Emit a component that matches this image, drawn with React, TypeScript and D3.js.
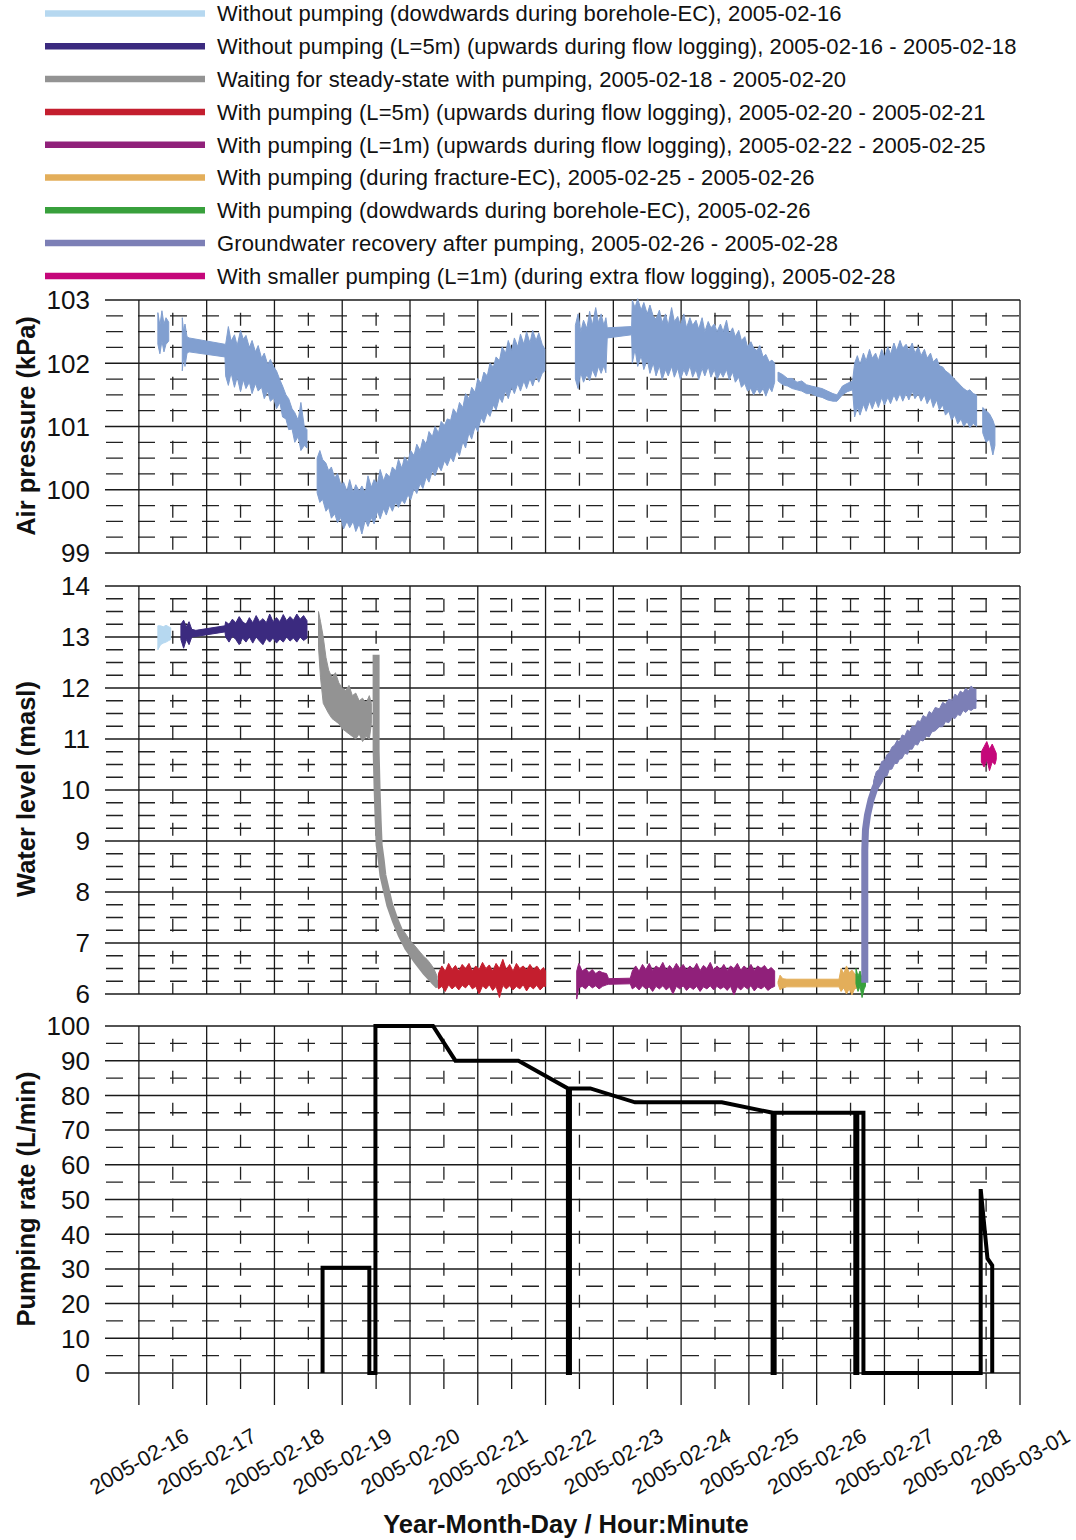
import React from "react";
import * as d3 from "d3";

// ---------- Data (time = day of February 2005, 29 = 2005-03-01) ----------
const dayTicks = [16, 17, 18, 19, 20, 21, 22, 23, 24, 25, 26, 27, 28, 29];
const dayLabels = [
  "2005-02-16", "2005-02-17", "2005-02-18", "2005-02-19", "2005-02-20", "2005-02-21", "2005-02-22",
  "2005-02-23", "2005-02-24", "2005-02-25", "2005-02-26", "2005-02-27", "2005-02-28", "2005-03-01",
];
const airTicks = [99, 100, 101, 102, 103];
const waterTicks = [6, 7, 8, 9, 10, 11, 12, 13, 14];
const pumpTicks = [0, 10, 20, 30, 40, 50, 60, 70, 80, 90, 100];

const legendLabels = [
  "Without pumping (dowdwards during borehole-EC), 2005-02-16",
  "Without pumping (L=5m) (upwards during flow logging), 2005-02-16 - 2005-02-18",
  "Waiting for steady-state with pumping, 2005-02-18 - 2005-02-20",
  "With pumping (L=5m) (upwards during flow logging), 2005-02-20 - 2005-02-21",
  "With pumping (L=1m) (upwards during flow logging), 2005-02-22 - 2005-02-25",
  "With pumping (during fracture-EC), 2005-02-25 - 2005-02-26",
  "With pumping (dowdwards during borehole-EC), 2005-02-26",
  "Groundwater recovery after pumping, 2005-02-26 - 2005-02-28",
  "With smaller pumping (L=1m) (during extra flow logging), 2005-02-28",
];
const legendColors = ["#b6d8f0", "#3b2a7f", "#939393", "#c41e2e", "#90207a", "#e3ae5a", "#38a03c", "#7c7fb6", "#c5077a"];
const airColor = "#819fd0";

// Air pressure envelopes [day, low, high] (kPa)
const airA = [
  [16.28, 102.3, 102.8], [16.31, 102.15, 102.6], [16.34, 102.35, 102.83], [16.37, 102.18, 102.62],
  [16.4, 102.3, 102.72], [16.44, 102.35, 102.65],
];
const airB = [
  [16.64, 101.88, 102.72], [16.66, 102.1, 102.5], [16.68, 101.95, 102.62], [16.71, 102.16, 102.42],
  [16.74, 102.18, 102.4], [17.27, 102.1, 102.3],
  [17.28, 101.8, 102.3], [17.32, 101.65, 102.58], [17.36, 101.85, 102.35], [17.41, 101.62, 102.45],
  [17.45, 101.78, 102.28], [17.5, 101.55, 102.52], [17.54, 101.74, 102.38], [17.58, 101.6, 102.44],
  [17.63, 101.7, 102.25], [17.67, 101.52, 102.36], [17.72, 101.68, 102.18], [17.76, 101.56, 102.28],
  [17.81, 101.62, 102.08], [17.85, 101.44, 102.16], [17.9, 101.56, 101.98], [17.94, 101.4, 102.06],
  [17.99, 101.45, 101.94], [18.03, 101.28, 101.88], [18.08, 101.38, 101.74], [18.12, 101.15, 101.64],
  [18.17, 101.12, 101.5], [18.21, 100.95, 101.44], [18.26, 100.96, 101.28], [18.3, 100.75, 101.22],
  [18.35, 100.84, 101.1], [18.39, 100.62, 101.38], [18.44, 100.7, 101.0], [18.48, 100.66, 100.95],
];
const airC = [
  [18.63, 99.95, 100.5], [18.67, 99.8, 100.62], [18.71, 99.85, 100.48], [18.76, 99.66, 100.42],
  [18.8, 99.72, 100.3], [18.84, 99.55, 100.36], [18.89, 99.62, 100.18], [18.93, 99.48, 100.26],
  [18.98, 99.56, 100.08], [19.02, 99.38, 100.12], [19.07, 99.5, 99.98], [19.11, 99.4, 100.16],
  [19.16, 99.5, 99.96], [19.2, 99.34, 100.08], [19.25, 99.46, 99.98], [19.29, 99.3, 100.06],
  [19.34, 99.52, 99.95], [19.38, 99.42, 100.22], [19.43, 99.56, 100.04], [19.47, 99.46, 100.16],
  [19.52, 99.66, 100.1], [19.56, 99.54, 100.32], [19.61, 99.7, 100.14], [19.65, 99.6, 100.26],
  [19.7, 99.76, 100.2], [19.74, 99.66, 100.36], [19.79, 99.8, 100.3], [19.83, 99.72, 100.48],
  [19.88, 99.84, 100.34], [19.92, 99.78, 100.52], [19.97, 99.92, 100.44], [20.01, 99.84, 100.62],
  [20.06, 100.02, 100.54], [20.1, 99.94, 100.72], [20.15, 100.1, 100.62], [20.19, 100.02, 100.8],
  [20.24, 100.2, 100.72], [20.28, 100.12, 100.92], [20.33, 100.3, 100.84], [20.37, 100.22, 101.0],
  [20.42, 100.38, 100.9], [20.46, 100.3, 101.08], [20.51, 100.46, 101.02], [20.55, 100.38, 101.12],
  [20.6, 100.52, 101.1], [20.64, 100.44, 101.28], [20.69, 100.62, 101.2], [20.73, 100.54, 101.38],
  [20.78, 100.76, 101.3], [20.82, 100.66, 101.52], [20.87, 100.9, 101.44], [20.91, 100.8, 101.62],
  [20.96, 101.0, 101.54], [21.0, 100.92, 101.76], [21.05, 101.14, 101.68], [21.09, 101.06, 101.86],
  [21.14, 101.22, 101.8], [21.18, 101.16, 102.0], [21.23, 101.34, 101.94], [21.27, 101.26, 102.1],
  [21.32, 101.46, 102.04], [21.36, 101.38, 102.26], [21.41, 101.56, 102.16], [21.45, 101.44, 102.36],
  [21.5, 101.62, 102.2], [21.54, 101.52, 102.4], [21.59, 101.68, 102.26], [21.63, 101.56, 102.46],
  [21.68, 101.72, 102.3], [21.72, 101.6, 102.5], [21.77, 101.76, 102.32], [21.81, 101.64, 102.52],
  [21.86, 101.8, 102.36], [21.9, 101.7, 102.48], [21.95, 101.84, 102.3], [21.99, 101.88, 102.22],
];
const airD = [
  [22.44, 101.75, 102.6], [22.48, 101.6, 102.78], [22.52, 101.85, 102.5], [22.56, 101.7, 102.68],
  [22.61, 101.82, 102.55], [22.65, 101.72, 102.82], [22.69, 101.9, 102.6], [22.74, 101.78, 102.88],
  [22.78, 101.95, 102.64], [22.82, 101.84, 102.78], [22.86, 101.96, 102.6], [22.89, 101.85, 102.72],
  [22.91, 102.4, 102.56], [23.27, 102.45, 102.58],
  [23.28, 102.0, 103.0], [23.32, 102.22, 102.88], [23.36, 101.95, 103.02], [23.41, 102.12, 102.84],
  [23.45, 101.9, 102.96], [23.5, 102.06, 102.78], [23.54, 101.84, 102.92], [23.59, 102.0, 102.74],
  [23.63, 101.8, 102.7], [23.68, 101.96, 102.84], [23.72, 101.74, 102.64], [23.77, 101.9, 102.78],
  [23.81, 101.8, 102.6], [23.86, 101.95, 102.88], [23.9, 101.78, 102.66], [23.95, 101.92, 102.74],
  [23.99, 101.74, 102.6], [24.04, 101.9, 102.78], [24.08, 101.8, 102.56], [24.13, 101.96, 102.72],
  [24.17, 101.78, 102.6], [24.22, 101.9, 102.68], [24.26, 101.74, 102.54], [24.31, 101.92, 102.72],
  [24.35, 101.8, 102.5], [24.4, 101.95, 102.66], [24.44, 101.78, 102.56], [24.49, 101.9, 102.62],
  [24.53, 101.74, 102.5], [24.58, 101.86, 102.62], [24.62, 101.78, 102.5], [24.67, 101.9, 102.68],
  [24.71, 101.74, 102.46], [24.76, 101.86, 102.56], [24.8, 101.7, 102.42], [24.85, 101.78, 102.52],
  [24.89, 101.62, 102.36], [24.94, 101.68, 102.42], [24.98, 101.56, 102.26], [25.03, 101.6, 102.34],
  [25.07, 101.5, 102.24], [25.12, 101.6, 102.2], [25.16, 101.52, 102.28], [25.21, 101.6, 102.1],
  [25.25, 101.48, 102.14], [25.3, 101.62, 102.02], [25.34, 101.55, 102.05], [25.38, 101.7, 102.0],
];
const airE = [
  [25.43, 101.72, 101.86], [25.5, 101.66, 101.82], [25.57, 101.64, 101.76], [25.64, 101.6, 101.76],
  [25.71, 101.58, 101.7], [25.78, 101.56, 101.72], [25.85, 101.52, 101.66], [25.92, 101.52, 101.64],
  [26.0, 101.48, 101.62], [26.08, 101.46, 101.6], [26.16, 101.42, 101.56], [26.24, 101.4, 101.52],
  [26.3, 101.4, 101.5], [26.38, 101.5, 101.64], [26.45, 101.55, 101.68], [26.53, 101.58, 101.72],
  [26.56, 101.15, 102.0], [26.6, 101.3, 102.12], [26.64, 101.18, 101.98], [26.69, 101.35, 102.16],
  [26.73, 101.24, 102.04], [26.78, 101.4, 102.22], [26.82, 101.28, 102.08], [26.87, 101.42, 102.16],
  [26.91, 101.3, 102.04], [26.96, 101.46, 102.22], [27.0, 101.34, 102.1], [27.05, 101.46, 102.26],
  [27.09, 101.36, 102.14], [27.14, 101.5, 102.32], [27.18, 101.4, 102.2], [27.23, 101.52, 102.36],
  [27.27, 101.4, 102.24], [27.32, 101.52, 102.3], [27.36, 101.42, 102.2], [27.41, 101.56, 102.32],
  [27.45, 101.44, 102.16], [27.5, 101.52, 102.26], [27.54, 101.4, 102.12], [27.59, 101.5, 102.22],
  [27.63, 101.36, 102.08], [27.68, 101.46, 102.16], [27.72, 101.3, 102.02], [27.77, 101.42, 102.08],
  [27.81, 101.26, 101.96], [27.86, 101.34, 101.94], [27.9, 101.18, 101.88], [27.95, 101.24, 101.84],
  [27.99, 101.1, 101.8], [28.04, 101.18, 101.74], [28.08, 101.04, 101.7], [28.13, 101.12, 101.64],
  [28.17, 101.0, 101.6], [28.22, 101.08, 101.56], [28.26, 100.98, 101.58], [28.31, 101.05, 101.52],
  [28.36, 101.0, 101.5],
];
const airF = [
  [28.45, 100.9, 101.3], [28.5, 100.75, 101.25], [28.55, 100.8, 101.2], [28.6, 100.55, 101.1],
  [28.63, 100.7, 101.0],
];
const airSegments = [airA, airB, airC, airD, airE, airF];

// Water level envelopes [day, low, high] (masl)
const wlLightBlue = [
  [16.28, 12.75, 13.22], [16.32, 12.85, 13.22], [16.36, 12.88, 13.2], [16.4, 12.9, 13.23],
  [16.44, 12.93, 13.2], [16.47, 12.95, 13.18],
];
const wlIndigo = [
  [16.62, 12.95, 13.25], [16.66, 12.78, 13.33], [16.7, 12.95, 13.2], [16.74, 12.85, 13.3],
  [16.78, 13.0, 13.15], [16.84, 13.01, 13.13], [17.27, 13.1, 13.22],
  [17.28, 13.0, 13.3], [17.33, 12.9, 13.25], [17.38, 13.02, 13.35], [17.43, 12.95, 13.28],
  [17.48, 12.85, 13.4], [17.53, 12.98, 13.3], [17.58, 12.9, 13.25], [17.63, 13.0, 13.38],
  [17.68, 12.88, 13.28], [17.73, 13.0, 13.42], [17.78, 12.92, 13.3], [17.83, 12.85, 13.36],
  [17.88, 12.97, 13.28], [17.93, 12.9, 13.45], [17.98, 12.98, 13.3], [18.03, 12.88, 13.38],
  [18.08, 12.96, 13.3], [18.13, 12.9, 13.44], [18.18, 13.0, 13.32], [18.23, 12.92, 13.4],
  [18.28, 12.98, 13.33], [18.33, 12.9, 13.45], [18.38, 13.0, 13.35], [18.43, 12.93, 13.42],
  [18.48, 12.98, 13.32],
];
const wlGrayNoisy = [
  [18.65, 12.8, 13.5], [18.68, 12.2, 13.3], [18.72, 11.7, 13.0], [18.76, 11.6, 12.6],
  [18.8, 11.5, 12.35], [18.85, 11.4, 12.2], [18.9, 11.35, 12.3], [18.95, 11.3, 12.1],
  [19.0, 11.2, 12.0], [19.05, 11.15, 11.95], [19.1, 11.1, 12.05], [19.15, 11.05, 11.85],
  [19.2, 11.0, 11.9], [19.25, 11.1, 11.75], [19.3, 10.95, 11.8], [19.35, 11.05, 11.7],
  [19.4, 11.0, 11.85], [19.43, 11.3, 11.7],
];
const wlGrayDrawdown = [
  [19.5, 12.65], [19.5, 11.76], [19.5, 10.78], [19.515, 9.99], [19.53, 9.41], [19.545, 8.92],
  [19.575, 8.63], [19.6, 8.33], [19.65, 8.04], [19.7, 7.75], [19.78, 7.45], [19.87, 7.16],
  [19.97, 6.9], [20.09, 6.67], [20.23, 6.43], [20.34, 6.27], [20.42, 6.16],
];
const wlGrayTail = [
  [19.9, 7.0, 7.25], [19.95, 6.85, 7.15], [20.0, 6.8, 7.05], [20.05, 6.7, 6.98], [20.1, 6.6, 6.9],
  [20.15, 6.52, 6.82], [20.2, 6.45, 6.74], [20.25, 6.38, 6.68], [20.3, 6.3, 6.6], [20.35, 6.22, 6.5],
  [20.4, 6.12, 6.35],
];
const wlRed = [
  [20.42, 6.1, 6.4], [20.47, 6.15, 6.55], [20.52, 6.05, 6.45], [20.57, 6.18, 6.6], [20.62, 6.1, 6.48],
  [20.67, 6.16, 6.56], [20.72, 6.08, 6.45], [20.77, 6.17, 6.58], [20.82, 6.12, 6.5], [20.87, 6.2, 6.6],
  [20.92, 6.1, 6.45], [20.97, 6.15, 6.55], [21.02, 6.0, 6.48], [21.07, 6.16, 6.62], [21.12, 6.1, 6.5],
  [21.17, 6.18, 6.57], [21.22, 6.07, 6.45], [21.27, 6.15, 6.6], [21.32, 5.93, 6.5], [21.37, 6.17, 6.68],
  [21.42, 6.1, 6.48], [21.47, 6.16, 6.58], [21.52, 6.08, 6.45], [21.57, 6.15, 6.6], [21.62, 6.1, 6.5],
  [21.67, 6.18, 6.55], [21.72, 6.06, 6.47], [21.77, 6.16, 6.58], [21.82, 6.1, 6.48], [21.87, 6.17, 6.55],
  [21.92, 6.08, 6.46], [21.97, 6.15, 6.52], [22.0, 6.15, 6.45],
];
const wlPurple = [
  [22.46, 5.9, 6.45], [22.49, 6.12, 6.6], [22.54, 6.15, 6.45], [22.59, 6.1, 6.5], [22.64, 6.18, 6.42],
  [22.69, 6.12, 6.48], [22.74, 6.16, 6.4], [22.79, 6.1, 6.45], [22.84, 6.15, 6.42], [22.9, 6.18, 6.4],
  [22.93, 6.19, 6.3], [23.25, 6.2, 6.31],
  [23.28, 6.1, 6.45], [23.33, 6.15, 6.55], [23.38, 6.08, 6.45], [23.43, 6.16, 6.58], [23.48, 6.1, 6.48],
  [23.53, 6.14, 6.6], [23.58, 6.05, 6.46], [23.63, 6.15, 6.55], [23.68, 6.1, 6.5], [23.73, 6.16, 6.62],
  [23.78, 6.08, 6.47], [23.83, 6.14, 6.56], [23.88, 6.0, 6.48], [23.93, 6.15, 6.6], [23.98, 6.1, 6.5],
  [24.03, 6.16, 6.58], [24.08, 6.07, 6.47], [24.13, 6.14, 6.55], [24.18, 6.09, 6.48], [24.23, 6.15, 6.6],
  [24.28, 6.05, 6.46], [24.33, 6.14, 6.56], [24.38, 6.1, 6.5], [24.43, 6.16, 6.62], [24.48, 6.08, 6.47],
  [24.53, 6.15, 6.55], [24.58, 6.1, 6.48], [24.63, 6.14, 6.58], [24.68, 6.07, 6.46], [24.73, 6.15, 6.55],
  [24.78, 5.98, 6.5], [24.83, 6.14, 6.6], [24.88, 6.08, 6.47], [24.93, 6.15, 6.55], [24.98, 6.1, 6.48],
  [25.03, 6.16, 6.58], [25.08, 6.06, 6.46], [25.13, 6.14, 6.55], [25.18, 6.1, 6.5], [25.23, 6.15, 6.56],
  [25.28, 6.07, 6.47], [25.33, 6.12, 6.52], [25.38, 6.15, 6.45],
];
const wlTan = [
  [25.43, 6.2, 6.24], [25.46, 6.08, 6.37], [25.5, 6.12, 6.3], [25.56, 6.14, 6.29], [26.33, 6.14, 6.29],
  [26.36, 6.05, 6.5], [26.4, 6.12, 6.4], [26.44, 6.0, 6.55], [26.48, 6.1, 6.42], [26.52, 5.98, 6.47],
  [26.56, 6.1, 6.4], [26.6, 6.12, 6.35], [26.62, 6.18, 6.28],
];
const wlGreen = [
  [26.58, 6.2, 6.5], [26.61, 6.05, 6.35], [26.64, 6.15, 6.45], [26.67, 5.93, 6.3], [26.7, 6.1, 6.38],
  [26.72, 6.15, 6.25],
];
const wlRecoveryLine = [
  [26.71, 6.22], [26.71, 7.84], [26.71, 8.82], [26.72, 9.22], [26.75, 9.51], [26.8, 9.8], [26.86, 10.04],
  [26.93, 10.25], [27.03, 10.49], [27.15, 10.69], [27.3, 10.88], [27.45, 11.06], [27.62, 11.24],
  [27.81, 11.41], [28.04, 11.59], [28.23, 11.73], [28.35, 11.8],
];
const wlRecoveryNoisy = [
  [26.84, 9.86, 10.18], [26.88, 9.98, 10.36], [26.92, 10.06, 10.4], [26.96, 10.14, 10.56],
  [27.0, 10.26, 10.58], [27.04, 10.28, 10.7], [27.07, 10.4, 10.72], [27.11, 10.41, 10.84],
  [27.15, 10.52, 10.88], [27.19, 10.52, 10.98], [27.22, 10.6, 10.94], [27.26, 10.62, 11.08],
  [27.3, 10.72, 11.06], [27.34, 10.7, 11.18], [27.37, 10.8, 11.14], [27.41, 10.8, 11.26],
  [27.45, 10.9, 11.24], [27.49, 10.88, 11.36], [27.53, 10.98, 11.34], [27.57, 10.96, 11.46],
  [27.62, 11.06, 11.42], [27.66, 11.04, 11.54], [27.7, 11.14, 11.5], [27.75, 11.16, 11.62],
  [27.81, 11.24, 11.59], [27.86, 11.24, 11.72], [27.9, 11.34, 11.68], [27.95, 11.32, 11.78],
  [28.0, 11.42, 11.76], [28.04, 11.4, 11.88], [28.08, 11.48, 11.84], [28.12, 11.46, 11.94],
  [28.16, 11.56, 11.9], [28.2, 11.52, 12.0], [28.24, 11.58, 11.94], [28.28, 11.56, 12.04],
  [28.32, 11.6, 11.98], [28.35, 11.6, 11.98],
];
const wlMagenta = [
  [28.43, 10.55, 10.75], [28.47, 10.45, 10.85], [28.51, 10.6, 10.95], [28.55, 10.38, 10.8],
  [28.59, 10.55, 10.9], [28.63, 10.5, 10.78], [28.65, 10.6, 10.72],
];

// Pumping rate [day, L/min]
const pumping = [
  [18.71, 0], [18.71, 30.3], [19.4, 30.3], [19.4, 0], [19.49, 0], [19.49, 100], [20.34, 100],
  [20.67, 90], [21.6, 90], [22.33, 82], [22.33, 0], [22.36, 0], [22.36, 82], [22.66, 82],
  [23.32, 78], [24.6, 78], [25.35, 75], [25.35, 0], [25.38, 0], [25.38, 75], [26.57, 75],
  [26.57, 0], [26.6, 0], [26.6, 75], [26.69, 75], [26.69, 0], [28.42, 0], [28.42, 53],
  [28.52, 33], [28.59, 31], [28.59, 0],
];

// ---------- Layout ----------
const FONT = "'Liberation Sans', Arial, Helvetica, sans-serif";
const LEFT = 105;
const RIGHT = 1020;
const x = d3.scaleLinear().domain([15.5, 29]).range([LEFT, RIGHT]);
const yAir = d3.scaleLinear().domain([99, 103]).range([553, 300]);
const yWater = d3.scaleLinear().domain([6, 14]).range([994, 586]);
const yPump = d3.scaleLinear().domain([0, 100]).range([1373, 1026]);

type Scale = d3.ScaleLinear<number, number>;

function range(a: number, b: number, step: number) {
  const out: number[] = [];
  for (let v = a; v <= b + 1e-9; v += step) out.push(+v.toFixed(4));
  return out;
}

function Grid({ y, major, minorStep }: { y: Scale; major: number[]; minorStep: number }) {
  const [d0, d1] = y.domain();
  const minors = range(d0, d1, minorStep).filter((v) => !major.some((m) => Math.abs(m - v) < 1e-6));
  const top = y(d1);
  const bottom = y(d0);
  const halfDays = range(16.5, 28.5, 1);
  return (
    <g>
      {minors.map((v) => (
        <line key={"hm" + v} x1={LEFT} x2={RIGHT} y1={y(v)} y2={y(v)} stroke="#222" strokeWidth={1.3}
          strokeDasharray="17 15" strokeDashoffset={-1} />
      ))}
      {halfDays.map((d) => (
        <line key={"vm" + d} x1={x(d)} x2={x(d)} y1={top} y2={bottom} stroke="#222" strokeWidth={1.3}
          strokeDasharray="13 19" strokeDashoffset={19.3} />
      ))}
      {major.map((v) => (
        <line key={"hM" + v} x1={LEFT} x2={RIGHT} y1={y(v)} y2={y(v)} stroke="#1a1a1a" strokeWidth={1.5} />
      ))}
      {dayTicks.map((d) => (
        <line key={"vM" + d} x1={x(d)} x2={x(d)} y1={top} y2={bottom} stroke="#1a1a1a" strokeWidth={1.3} />
      ))}
      {major.map((v) => (
        <text key={"t" + v} x={90} y={y(v)} dy="0.36em" textAnchor="end" fontSize={26} fontFamily={FONT} fill="#111">
          {v}
        </text>
      ))}
    </g>
  );
}

function Band({ data, y, color }: { data: number[][]; y: Scale; color: string }) {
  const area = d3
    .area<number[]>()
    .x((d) => x(d[0]))
    .y0((d) => y(d[1]))
    .y1((d) => y(d[2]));
  return <path d={area(data) || ""} fill={color} stroke={color} strokeWidth={1} strokeLinejoin="round" />;
}

function Line({ data, y, color, width }: { data: number[][]; y: Scale; color: string; width: number }) {
  const line = d3
    .line<number[]>()
    .x((d) => x(d[0]))
    .y((d) => y(d[1]));
  return <path d={line(data) || ""} fill="none" stroke={color} strokeWidth={width} strokeLinejoin="round" />;
}

export default function App() {
  const legendY = (i: number) => 13.5 + i * 32.8;
  const pumpLine = d3
    .line<number[]>()
    .x((d) => x(d[0]))
    .y((d) => yPump(d[1]));
  return (
    <svg width={1076} height={1540} style={{ display: "block", position: "absolute", left: 0, top: 0, background: "#fff" }}>
      <rect x={0} y={0} width={1076} height={1540} fill="#fff" />
      {/* Legend */}
      {legendLabels.map((label, i) => (
        <g key={label}>
          <line x1={45} x2={205} y1={legendY(i)} y2={legendY(i)} stroke={legendColors[i]} strokeWidth={6.5} />
          <text x={217} y={legendY(i)} dy="0.36em" fontSize={22} letterSpacing={0.1} fontFamily={FONT} fill="#111">
            {label}
          </text>
        </g>
      ))}

      {/* Air pressure panel */}
      <Grid y={yAir} major={airTicks} minorStep={0.25} />
      {airSegments.map((seg, i) => (
        <Band key={"air" + i} data={seg} y={yAir} color={airColor} />
      ))}

      {/* Water level panel */}
      <Grid y={yWater} major={waterTicks} minorStep={0.25} />
      <Band data={wlLightBlue} y={yWater} color={legendColors[0]} />
      <Band data={wlIndigo} y={yWater} color={legendColors[1]} />
      <Band data={wlGrayNoisy} y={yWater} color={legendColors[2]} />
      <Line data={wlGrayDrawdown} y={yWater} color={legendColors[2]} width={7} />
      <Band data={wlGrayTail} y={yWater} color={legendColors[2]} />
      <Band data={wlRed} y={yWater} color={legendColors[3]} />
      <Band data={wlPurple} y={yWater} color={legendColors[4]} />
      <Band data={wlTan} y={yWater} color={legendColors[5]} />
      <Band data={wlGreen} y={yWater} color={legendColors[6]} />
      <Line data={wlRecoveryLine} y={yWater} color={legendColors[7]} width={7} />
      <Band data={wlRecoveryNoisy} y={yWater} color={legendColors[7]} />
      <Band data={wlMagenta} y={yWater} color={legendColors[8]} />

      {/* Pumping panel */}
      <Grid y={yPump} major={pumpTicks} minorStep={5} />
      {dayTicks.map((d) => (
        <line key={"tk" + d} x1={x(d)} x2={x(d)} y1={1373} y2={1405} stroke="#1a1a1a" strokeWidth={1.3} />
      ))}
      {range(16.5, 28.5, 1).map((d) => (
        <line key={"tkm" + d} x1={x(d)} x2={x(d)} y1={1373} y2={1389} stroke="#1a1a1a" strokeWidth={1.3} />
      ))}
      <path d={pumpLine(pumping) || ""} fill="none" stroke="#000" strokeWidth={4} strokeLinejoin="miter" />

      {/* X tick labels */}
      {dayTicks.map((d, i) => (
        <text key={"xl" + d} transform={`translate(${x(d)},1461) rotate(-30)`} dy="0.36em" textAnchor="middle"
          fontSize={21.5} fontFamily={FONT} fill="#111">
          {dayLabels[i]}
        </text>
      ))}

      {/* Axis titles */}
      <text x={566} y={1533} textAnchor="middle" fontSize={25.5} fontWeight="bold" fontFamily={FONT} fill="#111">
        Year-Month-Day / Hour:Minute
      </text>
      <text transform="translate(35,426) rotate(-90)" textAnchor="middle" fontSize={25.5} fontWeight="bold" fontFamily={FONT} fill="#111">
        Air pressure (kPa)
      </text>
      <text transform="translate(35,789) rotate(-90)" textAnchor="middle" fontSize={25.5} fontWeight="bold" fontFamily={FONT} fill="#111">
        Water level (masl)
      </text>
      <text transform="translate(35,1199) rotate(-90)" textAnchor="middle" fontSize={25.5} fontWeight="bold" fontFamily={FONT} fill="#111">
        Pumping rate (L/min)
      </text>
    </svg>
  );
}
